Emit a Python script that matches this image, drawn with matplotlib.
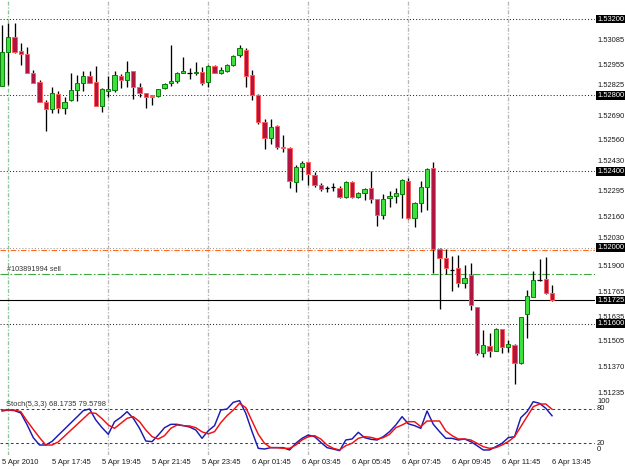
import matplotlib
matplotlib.use("Agg")
import matplotlib.pyplot as plt
from matplotlib.transforms import blended_transform_factory as blend
import numpy as np

plt.rcParams['font.family'] = ['Liberation Sans', 'DejaVu Sans']

# ---------------- data (M15 bars, 5 Apr 15:45 .. 6 Apr 13:45) ----------------
opens = [1.52849, 1.53029, 1.53107, 1.53032, 1.53017, 1.52918, 1.52871, 1.52766, 1.52728, 1.52807,
         1.52731, 1.52775, 1.52828, 1.52863, 1.52901, 1.52871, 1.52744, 1.52824, 1.52828, 1.52901,
         1.52880, 1.52927, 1.52845, 1.52810, 1.52798, 1.52796, 1.52836, 1.52863, 1.52875, 1.52918,
         1.52918, 1.52915, 1.52924, 1.52871, 1.52954, 1.52918, 1.52927, 1.52959, 1.53011, 1.53038,
         1.52906, 1.52801, 1.52658, 1.52577, 1.52640, 1.52530, 1.52525, 1.52346, 1.52425, 1.52448,
         1.52381, 1.52329, 1.52311, 1.52318, 1.52311, 1.52264, 1.52343, 1.52267, 1.52285, 1.52311,
         1.52254, 1.52171, 1.52259, 1.52273, 1.52282, 1.52351, 1.52154, 1.52236, 1.52320, 1.52416,
         1.51991, 1.51944, 1.51883, 1.51891, 1.51813, 1.51856, 1.51687, 1.51448, 1.51484, 1.51459,
         1.51571, 1.51480, 1.51489, 1.51396, 1.51650, 1.51742, 1.51832, 1.51834, 1.51760]
highs = [1.53169, 1.53181, 1.53181, 1.53073, 1.53055, 1.52933, 1.52880, 1.52775, 1.52845, 1.52824,
         1.52792, 1.52918, 1.52906, 1.52929, 1.52929, 1.52954, 1.52840, 1.52901, 1.52929, 1.52912,
         1.52980, 1.52927, 1.52866, 1.52813, 1.52801, 1.52831, 1.52866, 1.53064, 1.52924, 1.53002,
         1.52941, 1.52976, 1.52950, 1.52959, 1.52960, 1.52950, 1.52962, 1.53011, 1.53064, 1.53050,
         1.52933, 1.52805, 1.52675, 1.52674, 1.52644, 1.52591, 1.52527, 1.52434, 1.52456, 1.52451,
         1.52399, 1.52338, 1.52324, 1.52341, 1.52324, 1.52351, 1.52351, 1.52294, 1.52311, 1.52404,
         1.52254, 1.52282, 1.52299, 1.52311, 1.52359, 1.52364, 1.52241, 1.52351, 1.52420, 1.52451,
         1.51997, 1.51991, 1.51956, 1.51961, 1.51909, 1.51918, 1.51690, 1.51568, 1.51550, 1.51580,
         1.51571, 1.51515, 1.51492, 1.51637, 1.51778, 1.51879, 1.51939, 1.51949, 1.51804]
lows = [1.52846, 1.52854, 1.53022, 1.52959, 1.52915, 1.52863, 1.52764, 1.52614, 1.52705, 1.52705,
        1.52700, 1.52771, 1.52770, 1.52824, 1.52863, 1.52744, 1.52714, 1.52792, 1.52819, 1.52836,
        1.52842, 1.52780, 1.52789, 1.52731, 1.52749, 1.52792, 1.52831, 1.52850, 1.52863, 1.52915,
        1.52884, 1.52906, 1.52854, 1.52842, 1.52916, 1.52912, 1.52924, 1.52955, 1.53002, 1.52842,
        1.52775, 1.52649, 1.52518, 1.52542, 1.52518, 1.52500, 1.52311, 1.52290, 1.52355, 1.52329,
        1.52320, 1.52299, 1.52294, 1.52299, 1.52261, 1.52259, 1.52259, 1.52259, 1.52250, 1.52233,
        1.52114, 1.52149, 1.52212, 1.52233, 1.52158, 1.52150, 1.52107, 1.52189, 1.52198, 1.51865,
        1.51676, 1.51862, 1.51774, 1.51795, 1.51786, 1.51673, 1.51436, 1.51427, 1.51427, 1.51459,
        1.51445, 1.51454, 1.51284, 1.51389, 1.51524, 1.51742, 1.51826, 1.51757, 1.51721]
closes = [1.53029, 1.53107, 1.53029, 1.53017, 1.52918, 1.52866, 1.52766, 1.52728, 1.52810, 1.52731,
          1.52766, 1.52828, 1.52863, 1.52901, 1.52866, 1.52744, 1.52831, 1.52831, 1.52906, 1.52880,
          1.52924, 1.52842, 1.52813, 1.52789, 1.52792, 1.52831, 1.52857, 1.52875, 1.52918, 1.52927,
          1.52919, 1.52924, 1.52863, 1.52954, 1.52918, 1.52933, 1.52959, 1.53006, 1.53046, 1.52901,
          1.52801, 1.52658, 1.52574, 1.52635, 1.52527, 1.52525, 1.52351, 1.52422, 1.52446, 1.52385,
          1.52329, 1.52306, 1.52309, 1.52317, 1.52264, 1.52343, 1.52267, 1.52288, 1.52306, 1.52254,
          1.52171, 1.52254, 1.52273, 1.52285, 1.52355, 1.52154, 1.52236, 1.52320, 1.52413, 1.51991,
          1.51944, 1.51891, 1.51880, 1.51816, 1.51842, 1.51699, 1.51448, 1.51489, 1.51459, 1.51571,
          1.51480, 1.51494, 1.51396, 1.51634, 1.51748, 1.51830, 1.51830, 1.51760, 1.51725]

stoch_main = [76.5, 78.2, 77.1, 73.0, 52.6, 29.8, 17.0, 17.0, 23.3, 34.2,
              44.8, 55.6, 66.2, 77.1, 80.0, 60.8, 47.3, 35.7, 57.8, 65.4,
              75.3, 63.7, 46.2, 24.0, 22.9, 34.5, 47.3, 53.2, 53.2, 50.9,
              48.5, 43.3, 28.7, 42.0, 50.9, 78.2, 80.0, 91.7, 94.6, 72.4,
              40.4, 11.2, 10.0, 12.4, 12.4, 12.4, 8.3, 20.0, 28.7, 34.5,
              31.6, 21.7, 12.4, 10.0, 7.1, 25.8, 27.5, 39.2, 29.9, 27.0,
              25.8, 31.6, 40.4, 52.0, 66.6, 54.0, 50.9, 46.2, 76.5, 53.2,
              40.4, 28.7, 28.7, 25.8, 27.5, 22.9, 15.9, 8.3, 8.3, 14.1,
              20.0, 29.9, 31.6, 64.8, 75.3, 92.8, 89.9, 81.2, 68.17]
stoch_signal = [78.2, 78.2, 78.2, 75.3, 59.0, 44.3, 29.9, 17.0, 17.0, 22.5,
                32.6, 42.8, 52.9, 63.1, 73.3, 72.4, 63.0, 52.0, 46.2, 54.9,
                63.7, 66.6, 57.8, 43.3, 31.6, 27.5, 33.4, 46.2, 52.0, 50.9,
                50.3, 47.3, 40.0, 36.5, 40.4, 56.1, 68.4, 78.2, 89.9, 82.3,
                59.0, 35.7, 20.0, 12.4, 12.4, 11.2, 11.2, 17.0, 25.8, 31.6,
                33.4, 27.5, 17.0, 11.2, 8.3, 15.9, 20.0, 28.7, 31.6, 30.4,
                27.5, 29.9, 35.7, 47.3, 52.0, 57.8, 57.8, 49.1, 59.0, 59.0,
                59.0, 41.5, 33.4, 27.5, 27.5, 25.8, 20.0, 14.1, 11.2, 12.4,
                17.0, 22.9, 31.6, 49.1, 66.6, 84.1, 88.7, 88.7, 79.58]

time_labels = ["5 Apr 2010", "5 Apr 17:45", "5 Apr 19:45", "5 Apr 21:45", "5 Apr 23:45",
               "6 Apr 01:45", "6 Apr 03:45", "6 Apr 05:45", "6 Apr 07:45", "6 Apr 09:45",
               "6 Apr 11:45", "6 Apr 13:45"]
label_bars = [0, 8, 16, 24, 32, 40, 48, 56, 64, 72, 80, 88]
grid_bars = [1, 17, 33, 49, 65, 81]

price_ticks = [1.53085, 1.52955, 1.52825, 1.52690, 1.52560, 1.52430, 1.52295, 1.52160,
               1.52030, 1.51900, 1.51765, 1.51635, 1.51505, 1.51370, 1.51235]
marked_levels = [1.53200, 1.52800, 1.52400, 1.52000, 1.51600]
bid_price = 1.51725
order_price = 1.51860
stop_price = 1.51988
order_label = "#103891994 sell"
stoch_title = "Stoch(5,3,3) 68.1735 79.5798"
stoch_levels = [20, 80]
stoch_scale_labels = [("100", 93), ("80", 80), ("20", 20), ("0", 9)]

# ---------------- layout ----------------
W, H = 625, 469
fig = plt.figure(figsize=(W / 100, H / 100), dpi=100, facecolor='white')
PLOT_W = 595
MAIN_BOT = 397
ST_TOP, ST_BOT = 397.56, 454.73
ax = fig.add_axes([0, 1 - MAIN_BOT / H, PLOT_W / W, MAIN_BOT / H])
ax_st = fig.add_axes([0, 1 - ST_BOT / H, PLOT_W / W, (ST_BOT - ST_TOP) / H])

bar_px, x0_px = 6.25, 2.05
for a in (ax, ax_st):
    a.set_xlim(-x0_px / bar_px, (PLOT_W - x0_px) / bar_px)
    a.axis('off')
ax.set_ylim(1.5121575, 1.5330)
ax_st.set_ylim(0, 100)

FS = 5.4

# vertical grid
for k, b in enumerate(grid_bars):
    col = '#8ec49a' if k == 0 else '#b8b8b8'
    for a in (ax, ax_st):
        a.axvline(b, color=col, lw=0.95, ls=(0, (3, 1.3, 1, 1.3)), zorder=0)

# horizontal level lines
for lvl in marked_levels:
    col = '#9a9a9a' if abs(lvl - 1.52) < 1e-9 else '#2a2a2a'
    ax.axhline(lvl, color=col, lw=0.75, ls=(0, (1, 2)), zorder=1)
ax.axhline(stop_price, color='#ff6a1a', lw=0.8, ls=(0, (5, 1.6, 1, 1.6)), zorder=1)
ax.axhline(order_price, color='#3aaa3a', lw=0.8, ls=(0, (7, 2, 1.5, 2)), zorder=1)
ax.axhline(bid_price, color='black', lw=0.8, zorder=1)

# candles
o = np.array(opens); h = np.array(highs); l = np.array(lows); c = np.array(closes)
x = np.arange(len(o))
ax.vlines(x, l, h, colors='black', lw=0.95, zorder=2)
bottom = np.minimum(o, c)
height = np.abs(c - o)
doji = height < 0.000035
bull = (c >= o) & ~doji
bear = (c < o) & ~doji
ax.bar(x[bull], height[bull], bottom=bottom[bull], width=0.68, color='#3de03d',
       edgecolor='#0b7d0b', linewidth=0.7, zorder=3)
ax.bar(x[bear], height[bear], bottom=bottom[bear], width=0.68, color='#b01540',
       edgecolor='#ff5c5c', linewidth=0.7, zorder=3)
ax.hlines(o[doji], x[doji] - 0.34, x[doji] + 0.34, colors='black', lw=0.9, zorder=3)

# order label
ax.text(7 / PLOT_W, order_price + 0.00023, order_label, transform=blend(ax.transAxes, ax.transData),
        fontsize=FS - 0.2, color='#333333', ha='left', va='center')

# price scale
tr = blend(ax.transAxes, ax.transData)
xt = 597 / PLOT_W
boxed = marked_levels + [bid_price]
for p in price_ticks:
    ypos = p
    for m in boxed:
        if 0 < p - m < 0.0003:
            ypos = max(ypos, m + 0.0005)   # keep the label clear of the boxed level
    ax.text(xt, ypos, f"{p:.5f}", transform=tr, ha='left', va='center', fontsize=FS,
            color='#1a1a1a', clip_on=False)
for p in boxed:
    ax.text(xt, p, f"{p:.5f}", transform=tr, ha='left', va='center', fontsize=FS,
            color='white', clip_on=False,
            bbox=dict(boxstyle='square,pad=0.12', fc='black', ec='none'))

# stochastic pane
for lv in stoch_levels:
    ax_st.axhline(lv, color='#2a2af0', lw=0.75, ls=(0, (2.5, 2.5)), zorder=1)
ax_st.plot(x, stoch_main, color='#1a1ab4', lw=1.05, zorder=3)
ax_st.plot(x, stoch_signal, color='#f01010', lw=1.05, zorder=4)
ax_st.text(6 / PLOT_W, 0.887, stoch_title, transform=ax_st.transAxes, fontsize=FS,
           color='#333333', ha='left', va='center')
trs = blend(ax_st.transAxes, ax_st.transData)
for txt, v in stoch_scale_labels:
    ax_st.text(xt, v, txt, transform=trs, ha='left', va='center', fontsize=FS,
               color='#1a1a1a', clip_on=False)

# time axis
trt = blend(ax_st.transData, fig.transFigure)
for b, lab in zip(label_bars, time_labels):
    ax_st.text(b, (H - 462) / H, lab, transform=trt, ha='left', va='center', fontsize=FS,
               color='#1a1a1a', clip_on=False)

fig.savefig('out.png', dpi=100, facecolor='white')
